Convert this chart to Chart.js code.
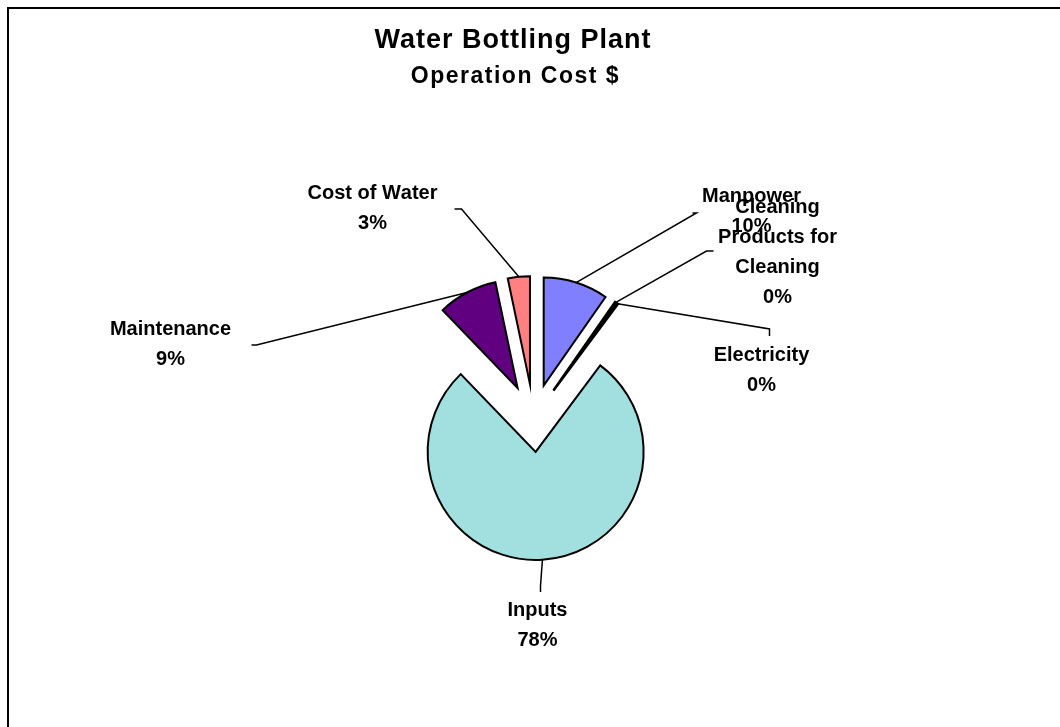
<!DOCTYPE html>
<html>
<head>
<meta charset="utf-8">
<script src="https://cdn.jsdelivr.net/npm/chart.js@4.4.1/dist/chart.umd.min.js"></script>
<style>
  html, body { margin: 0; padding: 0; background: #fff; }
  canvas { display: block; }
</style>
</head>
<body>
<canvas id="myChart" width="1060" height="727"></canvas>
<script>
// data
const categories = ['Manpower', 'Cleaning Products for Cleaning', 'Electricity', 'Inputs', 'Maintenance', 'Cost of Water'];
const labelLines = [['Manpower'], ['Cleaning', 'Products for', 'Cleaning'], ['Electricity'], ['Inputs'], ['Maintenance'], ['Cost of Water']];
const costShare = [9.7, 0.3, 0.2, 77.6, 8.9, 3.3];
const sliceColors = ['#8080FF', '#FFFFCC', '#CCFFFF', '#A2E0E0', '#600080', '#FF8080'];
const titleLines = ['Water Bottling Plant', 'Operation Cost $'];

// label placement, relative to the pie centre: text block, elbow of the leader, end of the short tick
const labelSpots = [
    { text: [218, -222], elbow: [163, -205], tick: [159, -205] },
    { text: [244, -211], elbow: [173, -167], tick: [180, -167] },
    { text: [228, -63], elbow: [236, -89], tick: [236, -82] },
    { text: [4, 192], elbow: [7, 168], tick: [7, 174] },
    { text: [-363, -89], elbow: [-277, -73], tick: [-282, -73] },
    { text: [-161, -225], elbow: [-72, -209], tick: [-79, -209] }
];

const EXPLODE = 34;
const FONT = "'Liberation Sans', Arial, sans-serif";
const total = costShare.reduce((a, b) => a + b, 0);

// pull every slice out along its own middle angle
const explodePlugin = {
    id: 'explode',
    beforeDatasetDraw(chart, args) {
        const ctx = chart.ctx;
        args.meta.data.forEach(arc => {
            const mid = (arc.startAngle + arc.endAngle) / 2;
            ctx.save();
            ctx.translate(Math.cos(mid) * EXPLODE, Math.sin(mid) * EXPLODE);
            arc.draw(ctx);
            ctx.restore();
        });
        return false;
    }
};

// frame, titles, labels with leader lines
const textPlugin = {
    id: 'pieText',
    afterDraw(chart) {
        const ctx = chart.ctx;
        const meta = chart.getDatasetMeta(0);
        ctx.save();

        ctx.strokeStyle = '#000';
        ctx.lineWidth = 2;
        ctx.strokeRect(8, 8, 1070, 740);

        ctx.fillStyle = '#000';
        ctx.textAlign = 'center';
        ctx.textBaseline = 'middle';
        ctx.letterSpacing = '1px';
        ctx.font = 'bold 27px ' + FONT;
        ctx.fillText(titleLines[0], 513, 41);
        ctx.letterSpacing = '1.5px';
        ctx.font = 'bold 23px ' + FONT;
        ctx.fillText(titleLines[1], 515.5, 77);
        ctx.letterSpacing = '0px';

        ctx.fontKerning = 'none';
        ctx.font = 'bold 20px ' + FONT;
        meta.data.forEach((arc, i) => {
            const mid = (arc.startAngle + arc.endAngle) / 2;
            const cx = arc.x, cy = arc.y;
            const r = arc.outerRadius;
            const sx = cx + Math.cos(mid) * (EXPLODE + r);
            const sy = cy + Math.sin(mid) * (EXPLODE + r);
            const spot = labelSpots[i];

            ctx.beginPath();
            ctx.lineWidth = 1.5;
            ctx.moveTo(sx, sy);
            ctx.lineTo(cx + spot.elbow[0], cy + spot.elbow[1]);
            ctx.lineTo(cx + spot.tick[0], cy + spot.tick[1]);
            ctx.stroke();

            const lines = labelLines[i].concat([Math.round(costShare[i] / total * 100) + '%']);
            lines.forEach((t, k) => {
                ctx.fillText(t, cx + spot.text[0], cy + spot.text[1] + k * 30);
            });
        });
        ctx.restore();
    }
};

const ctx = document.getElementById('myChart');
const myChart = new Chart(ctx, {
    type: 'pie',
    data: {
        labels: categories,
        datasets: [{
            data: costShare,
            backgroundColor: sliceColors,
            borderColor: '#000',
            borderWidth: 2,
            borderJoinStyle: 'miter',
            radius: 108
        }]
    },
    options: {
        responsive: false,
        animation: false,
        layout: { padding: { left: 8, right: 1, top: 120, bottom: 11 } },
        plugins: {
            legend: { display: false },
            title: { display: false },
            tooltip: { enabled: false }
        }
    },
    plugins: [explodePlugin, textPlugin]
});
</script>
</body>
</html>
